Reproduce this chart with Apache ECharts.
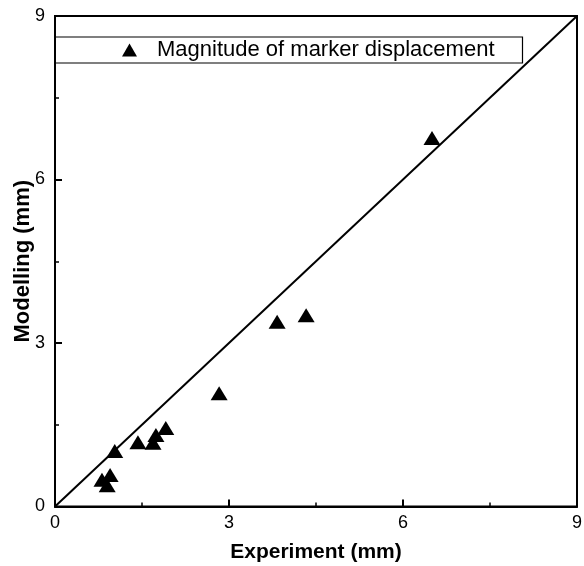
<!DOCTYPE html>
<html>
<head>
<meta charset="utf-8">
<script src="https://cdn.jsdelivr.net/npm/echarts@6/dist/echarts.min.js"></script>
<style>
html,body{margin:0;padding:0;background:#fff;}
#chart{width:584px;height:566px;}
</style>
</head>
<body>
<div id="chart"></div>
<script>
// Experiment (mm) vs Modelling (mm)
const experiment = [6.50, 3.83, 4.33, 2.83, 1.91, 1.74, 1.69, 1.43, 1.03, 0.95, 0.81, 0.90];
const modelling  = [6.76, 3.39, 3.51, 2.08, 1.44, 1.31, 1.17, 1.18, 1.02, 0.58, 0.49, 0.39];
const identityX = [0, 9];
const identityY = [0, 9];
const xTicks = [0, 3, 6, 9];
const yTicks = [0, 3, 6, 9];
const seriesName = 'Magnitude of marker displacement';
const xTitle = 'Experiment (mm)';
const yTitle = 'Modelling (mm)';

const FONT = '"Liberation Sans", Arial, sans-serif';
const chart = echarts.init(document.getElementById('chart'), null, {renderer: 'canvas'});

const axisCommon = {
  splitLine: {show: false},
  axisLine: {show: true, lineStyle: {color: '#000', width: 2}},
  axisTick: {show: true, inside: true, length: 7, lineStyle: {color: '#000', width: 2}},
  minorTick: {show: true, splitNumber: 2, length: 4, lineStyle: {color: '#000', width: 1.5}},
  nameLocation: 'middle',
  nameMoveOverlap: false
};

chart.setOption({
  backgroundColor: '#fff',
  animation: false,
  grid: {
    left: 55, right: 7, top: 16, bottom: 59.5,
    outerBoundsMode: 'none',
    containLabel: false,
    show: true, borderColor: '#000', borderWidth: 2, backgroundColor: 'transparent'
  },
  legend: {
    left: 55, top: 37,
    padding: [2, 28, 2, 67],
    borderColor: '#000', borderWidth: 1.2,
    itemWidth: 15, itemHeight: 13,
    itemGap: 0,
    data: [{name: seriesName, icon: 'triangle'}],
    textStyle: {fontFamily: FONT, fontSize: 22, color: '#000', padding: [0, 0, 0, 15]}
  },
  xAxis: Object.assign({}, axisCommon, {
    type: 'value',
    min: xTicks[0], max: xTicks[xTicks.length - 1], interval: xTicks[1] - xTicks[0],
    name: xTitle,
    nameGap: 35,
    nameTextStyle: {fontFamily: FONT, fontWeight: 'bold', fontSize: 21, color: '#000'},
    axisLabel: {fontFamily: FONT, fontSize: 18, color: '#000', margin: 8,
      formatter: v => xTicks.includes(v) ? String(v) : ''}
  }),
  yAxis: Object.assign({}, axisCommon, {
    type: 'value',
    min: yTicks[0], max: yTicks[yTicks.length - 1], interval: yTicks[1] - yTicks[0],
    name: yTitle,
    nameGap: 21,
    nameTextStyle: {fontFamily: FONT, fontWeight: 'bold', fontSize: 22, color: '#000'},
    axisLabel: {fontFamily: FONT, fontSize: 18, color: '#000', margin: 10,
      formatter: v => yTicks.includes(v) ? String(v) : ''}
  }),
  series: [
    {
      type: 'line',
      name: 'y = x',
      data: identityX.map((x, i) => [x, identityY[i]]),
      showSymbol: false,
      symbol: 'none',
      lineStyle: {color: '#000', width: 2},
      silent: true,
      z: 2
    },
    {
      type: 'scatter',
      name: seriesName,
      data: experiment.map((x, i) => [x, modelling[i]]),
      symbol: 'triangle',
      symbolSize: [17, 14],
      itemStyle: {color: '#000', opacity: 1},
      z: 3
    }
  ]
});
</script>
</body>
</html>
